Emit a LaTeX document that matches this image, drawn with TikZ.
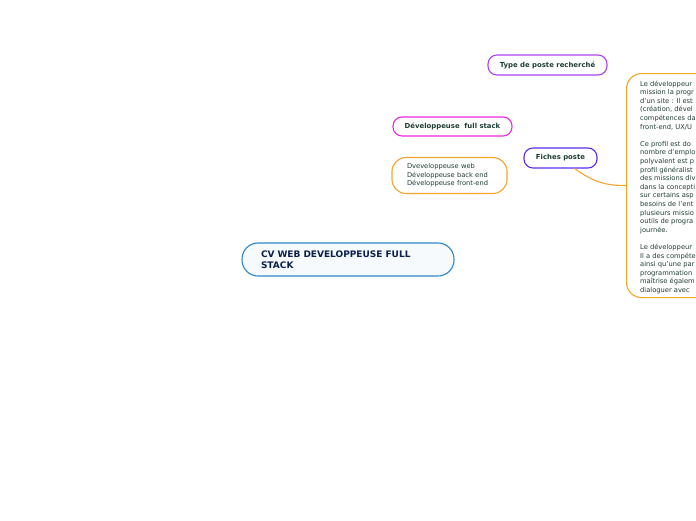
\documentclass[tikz,border=0pt]{standalone}
\usepackage{fontspec}
\setmainfont{DejaVu Sans}
\definecolor{txt}{HTML}{1E3D36}
\definecolor{navy}{HTML}{0B1F4D}
\definecolor{rootc}{HTML}{2A88CC}
\definecolor{purp}{HTML}{B040F0}
\definecolor{mag}{HTML}{F028E0}
\definecolor{orng}{HTML}{F5A42A}
\definecolor{viol}{HTML}{5A2CF0}
\tikzset{
  box/.style={draw, rounded corners=9pt, line width=1.1pt, fill=white, text=txt, inner sep=0pt},
  title/.style={box, font=\fontsize{6.9}{8}\selectfont\bfseries},
  body/.style={text=txt, inner sep=0pt, align=left, font=\fontsize{6.7}{8.6}\selectfont},
}
\begin{document}
\begin{tikzpicture}[x=1pt,y=-1pt]
\useasboundingbox (0,0) rectangle (696,520);
\clip (0,0) rectangle (696,520);
\node[box, draw=rootc, fill=rootc!4, rounded corners=16pt, minimum width=212pt, minimum height=33pt,
  text width=174pt, align=left, text=navy, font=\fontsize{9}{11}\selectfont\bfseries]
  (root) at (348,259.5) {CV WEB DEVELOPPEUSE FULL\\STACK};
\node[title, draw=purp, minimum width=119pt, minimum height=20pt] (type) at (547.5,65) {Type de poste recherché};
\node[title, draw=mag, minimum width=119pt, minimum height=19pt] (dev) at (452.5,126.5) {Développeuse\ \ full stack};
\node[box, draw=orng, rounded corners=14pt, minimum width=115pt, minimum height=36pt, text width=85pt, align=left,
  font=\fontsize{6.7}{8.5}\selectfont] (skills) at (449.5,175.5) {Dveveloppeuse web\\Développeuse back end\\Développeuse front-end};
\node[title, draw=viol, minimum width=73pt, minimum height=20pt] (fiches) at (560.5,158) {Fiches poste};
\node[box, draw=orng, rounded corners=15pt, minimum width=180pt, minimum height=224pt, anchor=north west] (fiche) at (626,73) {};
\node[body, anchor=north west] (fichetext) at (640,80.5) {%
Le développeur\\
mission la progr\\
d'un site : Il est\\
(création, dével\\
compétences da\\
front-end, UX/U\\[8.6pt]
Ce profil est do\\
nombre d'emplo\\
polyvalent est p\\
profil généralist\\
des missions div\\
dans la concepti\\
sur certains asp\\
besoins de l'ent\\
plusieurs missio\\
outils de progra\\
journée.\\[8.6pt]
Le développeur\\
Il a des compéte\\
ainsi qu'une par\\
programmation\\
maîtrise égalem\\
dialoguer avec};
\draw[orng, line width=1.1pt] (fiches.south) ++(14,0) .. controls +(20,14) and +(-20,0) .. (fiche.west);
\end{tikzpicture}
\end{document}
